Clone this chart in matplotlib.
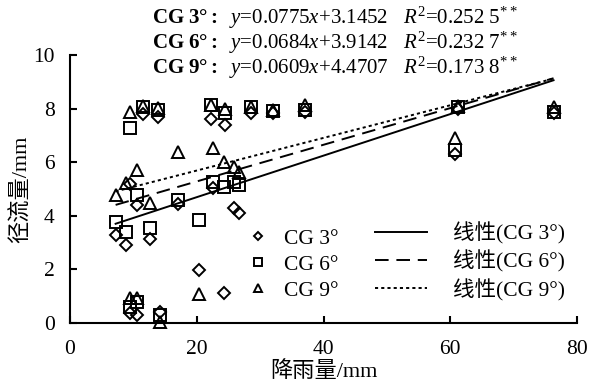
import matplotlib
matplotlib.use("Agg")
import matplotlib.pyplot as plt
import numpy as np

plt.rcParams['font.family'] = ['Liberation Serif', 'Noto Sans CJK SC', 'DejaVu Sans']
plt.rcParams['mathtext.fontset'] = 'custom'
plt.rcParams['mathtext.rm'] = 'Liberation Serif'
plt.rcParams['mathtext.it'] = 'Liberation Serif:italic'
plt.rcParams['mathtext.bf'] = 'Liberation Serif:bold'

# rainfall (mm) per event and runoff (mm) per slope
rain = [7.2, 8.8, 9.4, 9.5, 10.5, 10.5, 11.5, 12.7, 13.9, 14.2, 17.0, 20.3,
        22.3, 22.6, 24.4, 24.3, 25.9, 26.7, 28.6, 32.0, 37.1, 61.2, 60.8, 76.3]
cg3 = [3.28, 2.91, 5.20, 0.37, 0.30, 4.40, 7.78, 3.12, 7.70, 0.40, 4.45, 1.98,
       7.62, 5.03, 7.39, 1.11, 4.28, 4.12, 7.85, 7.82, 7.88, 8.00, 6.30, 7.85]
cg6 = [3.78, 3.41, 7.26, 0.61, 0.80, 4.78, 8.05, 3.53, 7.95, 0.30, 4.60, 3.84,
       8.12, 5.27, 7.85, 5.09, 5.27, 5.15, 8.05, 7.92, 7.95, 8.05, 6.46, 7.88]
cg9 = [4.78, 5.24, 7.88, 0.95, 0.95, 5.71, 8.10, 4.47, 8.02, 0.05, 6.39, 1.08,
       8.12, 6.52, 8.00, 6.02, 5.83, 5.65, 8.07, 7.95, 8.15, 8.10, 6.92, 8.07]

series_names = ['CG 3°', 'CG 6°', 'CG 9°']
slopes = [0.0775, 0.0684, 0.0609]
intercepts = [3.1452, 3.9142, 4.4707]
r2 = ['0.252 5', '0.232 7', '0.173 8']

xticks = [0, 20, 40, 60, 80]
yticks = [0, 2, 4, 6, 8, 10]

fig = plt.figure(figsize=(5.92, 3.84), dpi=100)
ax = fig.add_axes([70/592, 1-323/384, 507/592, 268/384])

markers = ['D', 's', '^']
msizes = [6, 8, 8.5]
data = [cg3, cg6, cg9]
mhandles = []
for ys, m, ms, name in zip(data, markers, msizes, series_names):
    h, = ax.plot(rain, ys, linestyle='none', marker=m, ms=ms, mfc='none',
                 mec='black', mew=1.4, label=name, clip_on=False, zorder=3)
    mhandles.append(h)

xr = np.array([min(rain), max(rain)])
styles = ['-', (0, (7, 4)), (0, (1.6, 1.6))]
lhandles = []
for k, b, ls, name in zip(slopes, intercepts, styles, series_names):
    h, = ax.plot(xr, k * xr + b, color='black', lw=1.4, linestyle=ls,
                 label='线性(' + name + ')')
    lhandles.append(h)

ax.set_xlim(0, 80)
ax.set_ylim(0, 10)
ax.set_xticks(xticks)
ax.set_yticks(yticks)
ax.spines['top'].set_visible(False)
ax.spines['right'].set_visible(False)
for s in ['left', 'bottom']:
    ax.spines[s].set_linewidth(1.5)
ax.tick_params(direction='in', length=5, width=1.5, labelsize=15.5)
ax.tick_params(axis='x', pad=12)
ax.tick_params(axis='y', pad=11)

ax.set_xlabel('降雨量/mm', fontsize=16, labelpad=2)
ax.set_ylabel('径流量/mm', fontsize=16)
ax.yaxis.set_label_coords(-0.075, 0.5)

leg1 = ax.legend(handles=mhandles, loc='lower left', bbox_to_anchor=(0.337, 0.05),
                 frameon=False, fontsize=15.5, handlelength=0.8, handletextpad=0.8,
                 labelspacing=0.28, borderaxespad=0, markerscale=0.75)
ax.add_artist(leg1)
ax.legend(handles=lhandles, loc='lower right', bbox_to_anchor=(0.993, 0.05),
          frameon=False, fontsize=15.5, handlelength=2.4, handletextpad=1.2,
          labelspacing=0.28, borderaxespad=0)

for i, (name, k, b, r) in enumerate(zip(series_names, slopes, intercepts, r2)):
    txt = ('$\\mathbf{CG\\ ' + name[3:-1] + '°:}$  $\\mathit{y}$=' + f'{k}'
           + '$\\mathit{x}$+' + f'{b:.4f}'
           + '   $\\mathit{R}^2$=' + r + '$^{**}$')
    fig.text(152/592, 1 - (18 + 25*i)/384, txt, fontsize=15, va='center', ha='left')

fig.savefig('out.png', dpi=100)
